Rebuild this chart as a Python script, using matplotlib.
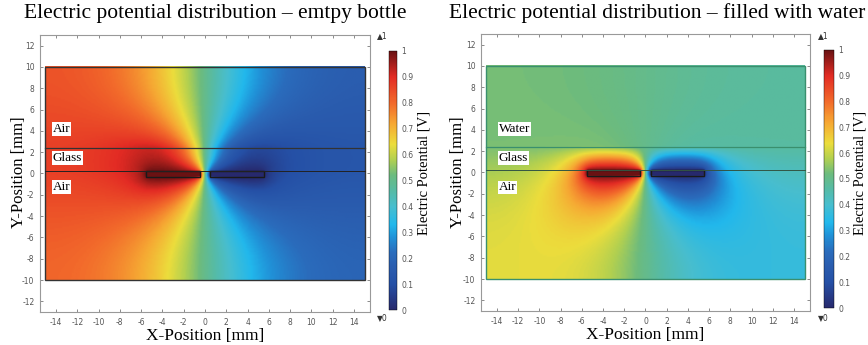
import numpy as np
import matplotlib
matplotlib.use("Agg")
import matplotlib.pyplot as plt
from matplotlib.colors import LinearSegmentedColormap
from matplotlib.patches import Rectangle

plt.rcParams['axes.unicode_minus'] = False

# ---- model data ----
x_limits = [-15.5, 15.5]
y_limits = [-13.0, 13.0]
domain_x = [-15.0, 15.0]
domain_y = [-10.0, 10.0]
glass_bottom = 0.2
glass_top = 2.4
electrode_x = [[-5.5, -0.5], [0.5, 5.5]]
electrode_y = [-0.3, 0.2]
electrode_volt = [1.0, 0.0]
eps_air = 1.0
eps_glass = [4.7, 1.0]      # effective, per panel
eps_top = [1.0, 30.0]       # air / water above the glass
contrast = [1.03, 1.0]

titles = ["Electric potential distribution \u2013 emtpy bottle",
          "Electric potential distribution \u2013 filled with water"]
top_media = ["Air", "Water"]
xticks = list(range(-14, 15, 2))
yticks = list(range(-12, 13, 2))
cbar_ticks = [0, 0.1, 0.2, 0.3, 0.4, 0.5, 0.6, 0.7, 0.8, 0.9, 1]

# COMSOL-like rainbow
cmap_stops = [0.0, 0.1, 0.16, 0.22, 0.28, 0.33, 0.4, 0.46, 0.52, 0.58, 0.64, 0.72, 0.8, 0.9, 1.0]
cmap_colors = ['#27296d', '#2550a6', '#2a5cae', '#2a6cbc', '#2092d8', '#22b8ec', '#48bece', '#56bba6',
               '#6cbb7e', '#b2d050', '#ecdd3c', '#f6a833', '#f26a2b', '#e32b24', '#6a1213']
cmap = LinearSegmentedColormap.from_list("comsol", list(zip(cmap_stops, cmap_colors)))

h = 0.125


def solve_potential(k):
    xs = np.arange(domain_x[0], domain_x[1] + h / 2, h)
    ys = np.arange(domain_y[0], domain_y[1] + h / 2, h)
    X, Y = np.meshgrid(xs, ys)
    eps = np.where(Y > glass_top, eps_top[k], np.where(Y > glass_bottom, eps_glass[k], eps_air))
    cx = 2 * eps[:, :-1] * eps[:, 1:] / (eps[:, :-1] + eps[:, 1:])
    cy = 2 * eps[:-1] * eps[1:] / (eps[:-1] + eps[1:])
    den = np.zeros_like(eps)
    den[:, :-1] += cx
    den[:, 1:] += cx
    den[:-1] += cy
    den[1:] += cy
    phi = np.full(X.shape, 0.5)
    fixed = np.zeros(X.shape, bool)
    for (x0, x1), v in zip(electrode_x, electrode_volt):
        m = (X >= x0 - 1e-9) & (X <= x1 + 1e-9) & (Y >= electrode_y[0] - 1e-9) & (Y <= electrode_y[1] + 1e-9)
        phi[m] = v
        fixed |= m
    I, J = np.indices(X.shape)
    masks = [(((I + J) % 2 == q) & ~fixed).astype(float) for q in (0, 1)]
    omega = 1.97
    num = np.empty_like(phi)
    for it in range(4000):
        for mk in masks:
            num[:] = 0
            num[:, :-1] += cx * phi[:, 1:]
            num[:, 1:] += cx * phi[:, :-1]
            num[:-1] += cy * phi[1:]
            num[1:] += cy * phi[:-1]
            phi += omega * mk * (num / den - phi)
    return np.clip(0.5 + (phi - 0.5) * contrast[k], 0, 1)


fig = plt.figure(figsize=(8.68, 3.45), dpi=100)
serif = "Liberation Serif"
tick_col = '#555555'

ax_pos = [[0.0461, 0.0957, 0.3802, 0.803], [0.5541, 0.0986, 0.379, 0.803]]
cb_pos = [[0.4482, 0.1014, 0.0092, 0.751], [0.9493, 0.1072, 0.0115, 0.748]]
title_x = [0.248, 0.757]
ylabel_x = [0.022, 0.528]
cblabel_x = [0.488, 0.991]
arrow_x = [0.434, 0.942]
line_col = ['#333333', '#3a8f6e']
label_x = [-14.3, -13.8]
label_y = [[4.2, 1.45, -1.25], [4.1, 1.35, -1.4]]

for k in range(2):
    phi = solve_potential(k)
    ax = fig.add_axes(ax_pos[k])
    im = ax.imshow(phi, origin='lower', cmap=cmap, vmin=0, vmax=1,
                   extent=[domain_x[0], domain_x[1], domain_y[0], domain_y[1]],
                   interpolation='bilinear', aspect='auto')
    ax.set_xlim(x_limits)
    ax.set_ylim(y_limits)
    ax.add_patch(Rectangle((domain_x[0], domain_y[0]), domain_x[1] - domain_x[0],
                           domain_y[1] - domain_y[0], fill=False, ec=line_col[k], lw=1.0))
    ax.plot(domain_x, [glass_top, glass_top], color=line_col[k], lw=0.9)
    ax.plot(domain_x, [glass_bottom, glass_bottom], color='#335544' if k else '#222222', lw=0.7)
    for (x0, x1) in electrode_x:
        ax.add_patch(Rectangle((x0, electrode_y[0]), x1 - x0, electrode_y[1] - electrode_y[0],
                               fill=False, ec='#1a1a1a', lw=1.0))
    for txt, yy in zip([top_media[k], "Glass", "Air"], label_y[k]):
        ax.text(label_x[k], yy, txt, family=serif, fontsize=9.5, va='center', ha='left',
                bbox=dict(fc='white', ec='none', pad=0.6))
    ax.set_xticks(xticks)
    ax.set_yticks(yticks)
    ax.tick_params(direction='in', length=2.5, width=0.6, color='#777777', labelsize=5.5,
                   labelcolor=tick_col, top=True, right=True, pad=4)
    for s in ax.spines.values():
        s.set_color('#999999')
        s.set_linewidth(0.8)
    ax.set_xlabel("X-Position [mm]", family=serif, fontsize=12.5, labelpad=1)
    fig.text(ylabel_x[k], 0.5, "Y-Position [mm]", family=serif, fontsize=12,
             rotation=90, ha='center', va='center')
    fig.text(title_x[k], 0.962, titles[k], family=serif, fontsize=15.5, ha='center', va='center')

    cax = fig.add_axes(cb_pos[k])
    cb = fig.colorbar(im, cax=cax, ticks=cbar_ticks)
    cb.ax.set_yticklabels([('%g' % t) for t in cbar_ticks])
    cb.ax.tick_params(labelsize=5.5, labelcolor=tick_col, length=0, pad=3)
    cb.outline.set_linewidth(0.3)
    fig.text(cblabel_x[k], 0.5, "Electric Potential [V]", family=serif, fontsize=10.5,
             rotation=90, ha='center', va='center')
    fig.text(arrow_x[k], 0.898, "\u25b21", fontsize=5.5, color='#333333', ha='left', va='center')
    fig.text(arrow_x[k], 0.079, "\u25bc0", fontsize=5.5, color='#333333', ha='left', va='center')

fig.savefig("out.png", dpi=100)
